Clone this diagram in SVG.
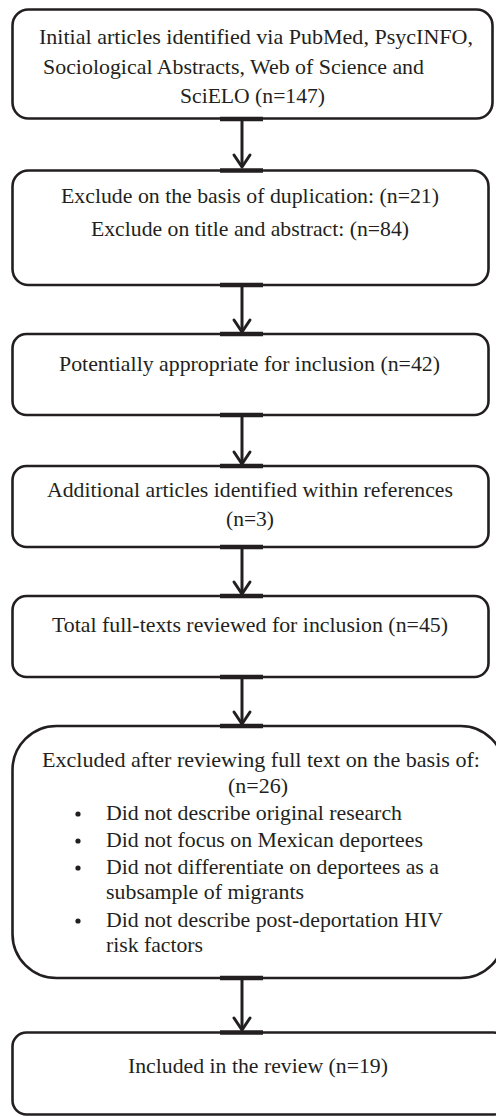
<svg xmlns="http://www.w3.org/2000/svg" width="496" height="1117" viewBox="0 0 496 1117">
<style>
.box{fill:#fff;stroke:#231f20;stroke-width:2.6}
.bar{stroke:#231f20;stroke-width:4.5}
.ln{stroke:#231f20;stroke-width:3;fill:none}
.hd{stroke:#231f20;stroke-width:3;fill:none;stroke-linecap:round;stroke-linejoin:round}
text{font-family:"Liberation Serif","Times New Roman",serif;font-size:21px;fill:#231f20}
.dot{fill:#231f20}
</style>
<rect width="496" height="1117" fill="#fff"/>
<g id="connectors">
<line class="ln" x1="242" y1="119" x2="242" y2="167"/><polyline class="hd" points="234,155 242,167 250,155"/>
<line class="ln" x1="242" y1="285" x2="242" y2="332"/><polyline class="hd" points="234,320 242,332 250,320"/>
<line class="ln" x1="242" y1="415" x2="242" y2="464"/><polyline class="hd" points="234,452 242,464 250,452"/>
<line class="ln" x1="242" y1="547" x2="242" y2="594"/><polyline class="hd" points="234,582 242,594 250,582"/>
<line class="ln" x1="242" y1="677" x2="242" y2="724"/><polyline class="hd" points="234,712 242,724 250,712"/>
<line class="ln" x1="242" y1="978" x2="242" y2="1030"/><polyline class="hd" points="234,1018 242,1030 250,1018"/>
</g>
<g id="n1">
<rect class="box" x="12.5" y="9.5" width="480" height="109" rx="16"/>
<text x="39" y="44" textLength="434" lengthAdjust="spacingAndGlyphs">Initial articles identified via PubMed, PsycINFO,</text>
<text x="43" y="74" textLength="381" lengthAdjust="spacingAndGlyphs">Sociological Abstracts, Web of Science and</text>
<text x="180" y="103" textLength="145" lengthAdjust="spacingAndGlyphs">SciELO (n=147)</text>
</g>
<g id="n2">
<rect class="box" x="12.5" y="170.5" width="476" height="114.5" rx="16"/>
<text x="61" y="203" textLength="378" lengthAdjust="spacingAndGlyphs">Exclude on the basis of duplication: (n=21)</text>
<text x="91" y="236" textLength="318" lengthAdjust="spacingAndGlyphs">Exclude on title and abstract: (n=84)</text>
</g>
<g id="n3">
<rect class="box" x="12.5" y="334" width="476" height="81" rx="14"/>
<text x="59" y="371" textLength="381" lengthAdjust="spacingAndGlyphs">Potentially appropriate for inclusion (n=42)</text>
</g>
<g id="n4">
<rect class="box" x="12.5" y="466" width="476" height="81" rx="14"/>
<text x="47" y="497" textLength="406" lengthAdjust="spacingAndGlyphs">Additional articles identified within references</text>
<text x="226" y="526" textLength="48" lengthAdjust="spacingAndGlyphs">(n=3)</text>
</g>
<g id="n5">
<rect class="box" x="12.5" y="596" width="476" height="81" rx="14"/>
<text x="52" y="632" textLength="396" lengthAdjust="spacingAndGlyphs">Total full-texts reviewed for inclusion (n=45)</text>
</g>
<g id="n6">
<rect class="box" x="12.5" y="726" width="492" height="252" rx="44"/>
<text x="42" y="767" textLength="438" lengthAdjust="spacingAndGlyphs">Excluded after reviewing full text on the basis of:</text>
<text x="228" y="793" textLength="60" lengthAdjust="spacingAndGlyphs">(n=26)</text>
<circle class="dot" cx="78" cy="814" r="2.6"/><text x="106" y="820" textLength="296" lengthAdjust="spacingAndGlyphs">Did not describe original research</text>
<circle class="dot" cx="78" cy="841" r="2.6"/><text x="106" y="847" textLength="317" lengthAdjust="spacingAndGlyphs">Did not focus on Mexican deportees</text>
<circle class="dot" cx="78" cy="868" r="2.6"/><text x="106" y="874" textLength="333" lengthAdjust="spacingAndGlyphs">Did not differentiate on deportees as a</text>
<text x="106" y="899" textLength="198" lengthAdjust="spacingAndGlyphs">subsample of migrants</text>
<circle class="dot" cx="78" cy="921" r="2.6"/><text x="106" y="927" textLength="337" lengthAdjust="spacingAndGlyphs">Did not describe post-deportation HIV</text>
<text x="106" y="952" textLength="97" lengthAdjust="spacingAndGlyphs">risk factors</text>
</g>
<g id="n7">
<rect class="box" x="12.5" y="1032.5" width="495" height="82" rx="14"/>
<text x="128" y="1073" textLength="260" lengthAdjust="spacingAndGlyphs">Included in the review (n=19)</text>
</g>
<g id="bars">
<line class="bar" x1="220" y1="119" x2="263" y2="119"/>
<line class="bar" x1="220" y1="170.5" x2="263" y2="170.5"/>
<line class="bar" x1="220" y1="285" x2="263" y2="285"/>
<line class="bar" x1="220" y1="334" x2="263" y2="334"/>
<line class="bar" x1="220" y1="415" x2="263" y2="415"/>
<line class="bar" x1="220" y1="466" x2="263" y2="466"/>
<line class="bar" x1="220" y1="547" x2="263" y2="547"/>
<line class="bar" x1="220" y1="596" x2="263" y2="596"/>
<line class="bar" x1="220" y1="677" x2="263" y2="677"/>
<line class="bar" x1="220" y1="726" x2="263" y2="726"/>
<line class="bar" x1="220" y1="978" x2="263" y2="978"/>
<line class="bar" x1="220" y1="1032.5" x2="263" y2="1032.5"/>
</g>
</svg>
